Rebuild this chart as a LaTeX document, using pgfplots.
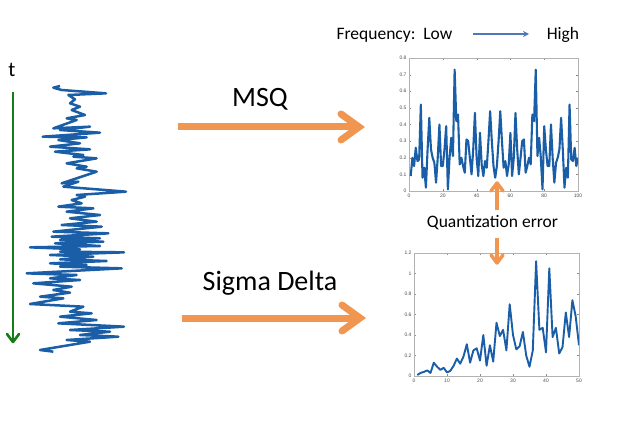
\documentclass[border=0pt]{standalone}
\usepackage{fontspec}
\setmainfont{Carlito}
\newfontfamily\tickfont{Liberation Sans}
\usepackage{pgfplots}
\pgfplotsset{compat=1.18}
\usepackage{pgfplotstable}
\usetikzlibrary{arrows.meta}

\definecolor{sigblue}{RGB}{26,94,168}
\definecolor{arrorange}{RGB}{240,150,80}
\definecolor{tgreen}{RGB}{20,125,25}
\definecolor{freqblue}{RGB}{80,120,185}

% MSQ error, x = 1..100
\pgfplotstableread{
x y
1 0.09
2 0.20
3 0.15
4 0.26
5 0.18
6 0.19
7 0.52
8 0.08
9 0.14
10 0.02
11 0.25
12 0.44
13 0.25
14 0.20
15 0.17
16 0.05
17 0.20
18 0.40
19 0.15
20 0.15
21 0.25
22 0.39
23 0.01
24 0.20
25 0.32
26 0.21
27 0.73
28 0.42
29 0.46
30 0.16
31 0.20
32 0.15
33 0.11
34 0.31
35 0.30
36 0.20
37 0.10
38 0.25
39 0.47
40 0.20
41 0.09
42 0.35
43 0.16
44 0.09
45 0.18
46 0.14
47 0.30
48 0.48
49 0.30
50 0.15
51 0.08
52 0.15
53 0.30
54 0.48
55 0.30
56 0.14
57 0.18
58 0.09
59 0.16
60 0.35
61 0.09
62 0.20
63 0.47
64 0.25
65 0.10
66 0.20
67 0.30
68 0.31
69 0.11
70 0.15
71 0.20
72 0.16
73 0.46
74 0.42
75 0.73
76 0.21
77 0.32
78 0.20
79 0.01
80 0.39
81 0.25
82 0.15
83 0.15
84 0.40
85 0.20
86 0.05
87 0.17
88 0.20
89 0.25
90 0.44
91 0.25
92 0.02
93 0.14
94 0.08
95 0.52
96 0.19
97 0.18
98 0.26
99 0.15
100 0.20
}\msqdata

% Sigma Delta error, x = 1..50
\pgfplotstableread{
x y
1 0.01
2 0.03
3 0.04
4 0.055
5 0.03
6 0.13
7 0.09
8 0.06
9 0.08
10 0.035
11 0.05
12 0.10
13 0.17
14 0.12
15 0.19
16 0.31
17 0.13
18 0.25
19 0.27
20 0.15
21 0.40
22 0.10
23 0.30
24 0.14
25 0.52
26 0.39
27 0.45
28 0.25
29 0.70
30 0.40
31 0.26
32 0.29
33 0.43
34 0.20
35 0.09
36 0.25
37 1.12
38 0.45
39 0.47
40 0.23
41 1.05
42 0.38
43 0.47
44 0.22
45 0.28
46 0.62
47 0.38
48 0.74
49 0.58
50 0.30
}\sddata

% input signal drawn vertically: amplitude, time (time runs down)
\pgfplotstableread{
a t
180 108
160 113
185 120
318 130
205 135
225 148
210 160
240 170
215 180
255 195
200 205
230 210
160 235
270 230
180 240
300 248
128 260
260 262
175 270
240 280
150 290
270 298
165 305
250 315
220 320
290 325
200 340
260 350
230 355
290 365
185 400
235 395
190 410
378 425
230 435
255 440
215 450
245 460
175 470
280 475
200 485
300 495
210 505
290 515
185 525
305 530
160 545
325 550
155 560
300 565
180 570
310 575
165 580
300 588
90 592
240 598
180 605
372 607
150 615
280 620
180 628
320 633
150 640
260 645
180 650
365 655
80 670
230 675
150 685
240 690
100 700
215 710
160 720
210 728
120 740
190 745
90 762
250 770
210 785
275 790
180 800
290 810
175 820
372 830
210 840
330 845
240 855
355 860
200 870
270 875
120 900
160 905
}\signal

\pgfplotsset{
  small/.style={
    scale only axis,
    axis line style={draw=black!30},
    tick style={draw=black!45, major tick length=2pt},
    tick align=inside,
    tick label style={font=\tickfont\fontsize{5}{6}\selectfont, text=black!70},
    /pgf/number format/assume math mode=true,
    xticklabel style={yshift=1pt},
    yticklabel style={xshift=1pt},
    enlargelimits=false,
  }
}

\begin{document}
\begin{tikzpicture}[x=1pt,y=1pt]
\path[use as bounding box] (0,0) rectangle (636,439);

% input signal
\begin{axis}[
  at={(0pt,69pt)}, anchor=south west,
  scale only axis, width=140pt, height=320pt,
  xmin=0, xmax=420, ymin=0, ymax=960, y dir=reverse,
  hide axis]
\addplot[sigblue, line width=2.5pt, line join=round] table[x=a,y=t] {\signal};
\end{axis}

% MSQ error plot
\begin{axis}[small,
  at={(409pt,248pt)}, anchor=south west,
  width=169pt, height=133pt,
  xmin=0, xmax=100, ymin=0, ymax=0.8,
  xtick={0,20,...,100},
  ytick={0,0.1,...,0.8}]
\addplot[sigblue, line width=2.1pt, line join=round] table[x=x,y=y] {\msqdata};
\end{axis}

% Sigma Delta error plot
\begin{axis}[small,
  at={(414pt,63pt)}, anchor=south west,
  width=165pt, height=123pt,
  xmin=0, xmax=50, ymin=0, ymax=1.2,
  xtick={0,10,...,50},
  ytick={0,0.2,...,1.2}]
\addplot[sigblue, line width=1.9pt, line join=round] table[x=x,y=y] {\sddata};
\end{axis}

% time axis
\node[anchor=base, font=\fontsize{21}{23}\selectfont] at (12,362) {t};
\draw[tgreen, line width=2.6pt] (13,347) -- (13,98);
\draw[tgreen, line width=2.6pt, line cap=round, line join=round] (7,105) -- (13,97) -- (19,105);

% big orange arrows
\node[anchor=base, font=\fontsize{28}{30}\selectfont] at (260,332) {MSQ};
\draw[arrorange, line width=7pt] (178,312) -- (356,312);
\draw[arrorange, line width=7pt, line join=miter, line cap=round] (341,325) -- (359,312) -- (341,299);

\node[anchor=base, font=\fontsize{28}{30}\selectfont] at (270,149) {Sigma Delta};
\draw[arrorange, line width=7pt] (182,121) -- (357,121);
\draw[arrorange, line width=7pt, line join=miter, line cap=round] (342,134) -- (360,121) -- (342,108);

% frequency legend
\node[anchor=base west, font=\fontsize{17.5}{19}\selectfont] at (333,399) {Frequency:\ \ Low};
\draw[freqblue, line width=1.3pt, -{Stealth[length=6pt,width=6pt]}] (473,405) -- (529,405);
\node[anchor=base, font=\fontsize{17.5}{19}\selectfont] at (563,399) {High};

% quantization error
\node[anchor=base, font=\fontsize{17.5}{19}\selectfont] at (492.5,211) {Quantization error};
\draw[arrorange, line width=3.5pt] (497,229) -- (497,253);
\draw[arrorange, line width=3.5pt, line cap=round, line join=round] (491,248) -- (497,256) -- (503,248);
\draw[arrorange, line width=3.5pt] (497,201) -- (497,179);
\draw[arrorange, line width=3.5pt, line cap=round, line join=round] (491,184) -- (497,176) -- (503,184);
\end{tikzpicture}
\end{document}
